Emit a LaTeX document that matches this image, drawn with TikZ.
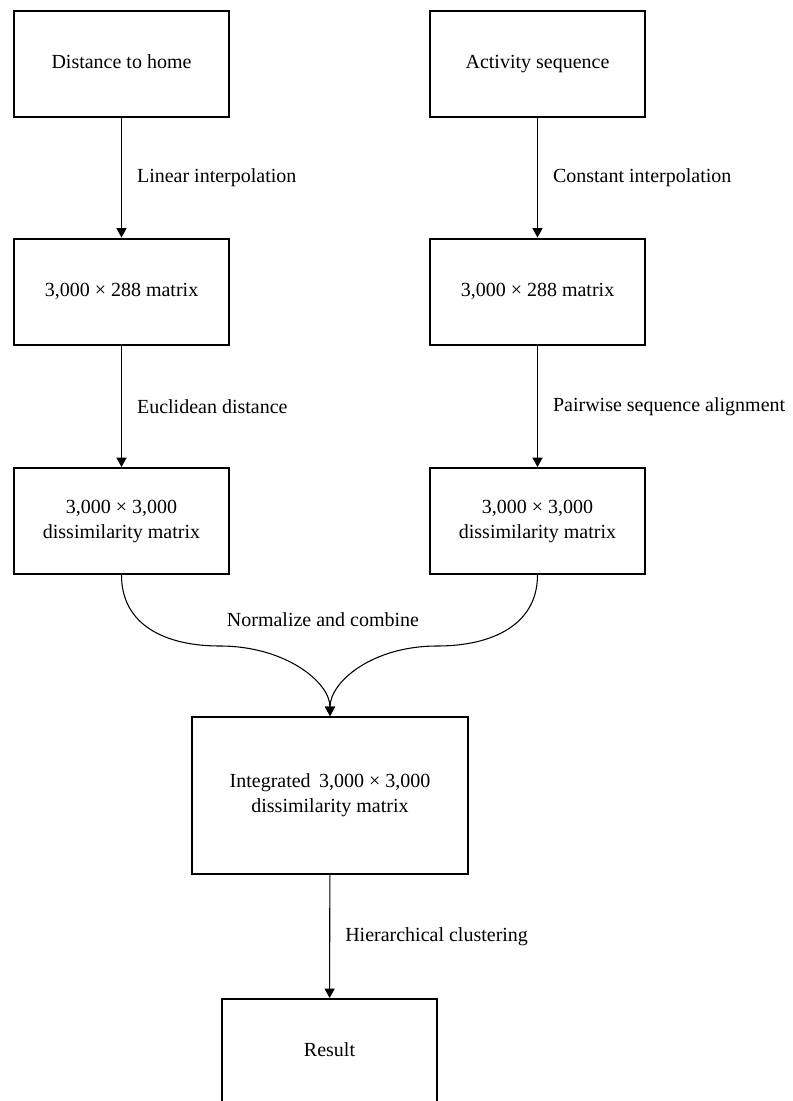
\documentclass[tikz,border=0pt]{standalone}
\usepackage{fontspec}
\setmainfont{Liberation Serif}
\usetikzlibrary{arrows.meta}
\tikzset{
  box/.style={draw=black, line width=1.5pt, minimum width=161.25pt, minimum height=79.5pt, inner sep=2pt, align=center, font=\fontsize{15}{18.75}\selectfont},
  onebox/.style={box, text height=10.5pt, text depth=3.5pt},
  flow/.style={draw=black, line width=0.8pt, -{Triangle[width=7.5pt,length=7pt]}},
  lbl/.style={midway, anchor=west, inner sep=0pt, xshift=11.25pt, font=\fontsize{15}{18.75}\selectfont},
  freelbl/.style={inner sep=0pt, font=\fontsize{15}{18.75}\selectfont}
}
\begin{document}
\begin{tikzpicture}[x=0.75pt, y=-0.75pt]
\useasboundingbox (0,0) rectangle (793,1101);
\node[onebox] (dh) at (121.5,64) {Distance to home};
\node[onebox] (as) at (537.5,64) {Activity sequence};
\node[onebox] (ml) at (121.5,291.5) {3,000 × 288 matrix};
\node[onebox] (mr) at (537.5,291.5) {3,000 × 288 matrix};
\node[box] (dl) at (121.5,521) {3,000 × 3,000\\dissimilarity matrix};
\node[box] (dr) at (537.5,521) {3,000 × 3,000\\dissimilarity matrix};
\node[box, minimum width=207pt, minimum height=117.75pt] (int) at (330,795.5) {Integrated\, 3,000 × 3,000\\dissimilarity matrix};
\node[onebox] (res) at (329.5,1052) {Result};

\draw[flow] (dh) -- node[lbl] {Linear interpolation} (ml);
\draw[flow] (as) -- node[lbl] {Constant interpolation} (mr);
\draw[flow] (ml) -- node[lbl] {Euclidean distance} (dl);
\draw[flow] (mr) -- node[lbl] {Pairwise sequence alignment} (dr);
\draw[flow] (int) -- node[lbl] {Hierarchical clustering} (res);

\coordinate (cl) at (220,646);
\coordinate (cr) at (437,646);
\draw[flow] (dl.south) .. controls +(0,50) and +(-55,0) .. (cl) .. controls +(65,0) and +(0,-34) .. (int.north);
\draw[flow] (dr.south) .. controls +(0,50) and +(55,0) .. (cr) .. controls +(-65,0) and +(0,-34) .. (int.north);
\node[freelbl] (nc) at (323,620) {Normalize and combine};
\end{tikzpicture}
\end{document}
